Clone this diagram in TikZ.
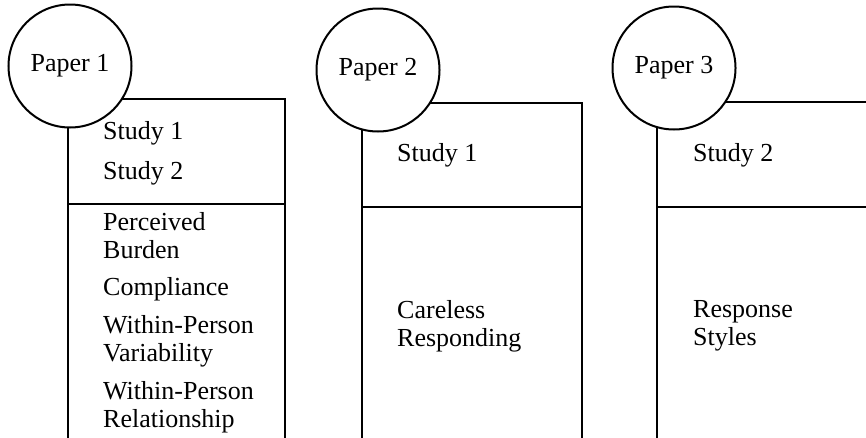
\documentclass[tikz,border=0pt]{standalone}
\usepackage{fontspec}
\setmainfont{Liberation Serif}
\begin{document}
\begin{tikzpicture}[x=1pt,y=-1pt,
  frame/.style={line width=2pt, line cap=rect},
  paper/.style={circle, draw, line width=2pt, fill=white, minimum size=123pt, inner sep=0pt, font=\fontsize{26}{28}\selectfont},
  txt/.style={anchor=west, inner sep=0pt, align=left, font=\fontsize{26}{28}\selectfont}]
\useasboundingbox (0,0) rectangle (866,437);
\clip (0,0) rectangle (866,437);
% column 1
\coordinate (a1) at (68,445);
\coordinate (a2) at (68,99);
\coordinate (a3) at (285,99);
\coordinate (a4) at (285,445);
\coordinate (d1) at (68,204);
\coordinate (d2) at (285,204);
\draw[frame] (a1) -- (a2) -- (a3) -- (a4);
\draw[frame] (d1) -- (d2);
% column 2
\coordinate (b1) at (362,445);
\coordinate (b2) at (362,103);
\coordinate (b3) at (582,103);
\coordinate (b4) at (582,445);
\coordinate (e1) at (362,207);
\coordinate (e2) at (582,207);
\draw[frame] (b1) -- (b2) -- (b3) -- (b4);
\draw[frame] (e1) -- (e2);
% column 3
\coordinate (c1) at (657,445);
\coordinate (c2) at (657,102);
\coordinate (c3) at (875,102);
\coordinate (f1) at (657,207);
\coordinate (f2) at (875,207);
\draw[frame] (c1) -- (c2) -- (c3);
\draw[frame] (f1) -- (f2);
% circles
\node[paper] (p1) at (70,66) {Paper 1};
\node[paper] (p2) at (378,70) {Paper 2};
\node[paper] (p3) at (674,68) {Paper 3};
% texts column 1
\node[txt] (s11) at (103,133) {Study 1};
\node[txt] (s12) at (103,173) {Study 2};
\node[txt] (t1) at (103,236) {Perceived\\Burden};
\node[txt] (t2) at (103,289) {Compliance};
\node[txt] (t3) at (103,341) {Within-Person\\Variability};
\node[txt] (t4) at (103,407) {Within-Person\\Relationship};
% column 2
\node[txt] (s21) at (397,155) {Study 1};
\node[txt] (t5) at (397,326) {Careless\\Responding};
% column 3
\node[txt] (s32) at (693,155) {Study 2};
\node[txt] (t6) at (693,326) {Response\\Styles};
\end{tikzpicture}
\end{document}
